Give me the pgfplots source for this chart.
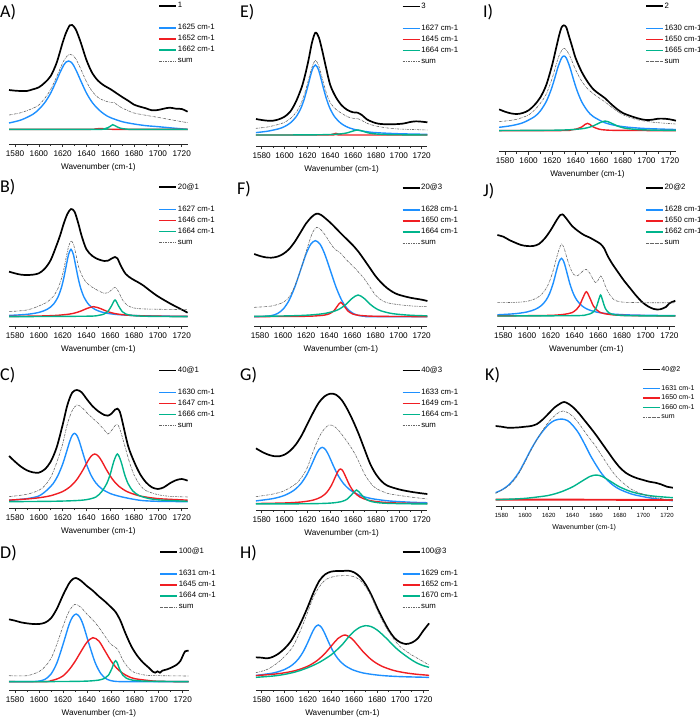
\documentclass[border=0pt]{standalone}
\usepackage{fontspec}
\setmainfont{Liberation Sans}
\newfontfamily\carlito{Carlito}
\usepackage{pgfplots}
\pgfplotsset{compat=1.18}
\definecolor{cblue}{RGB}{30,144,255}
\definecolor{cred}{RGB}{240,30,35}
\definecolor{cgreen}{RGB}{0,180,140}
\pgfplotsset{
 dax/.style n args={5}{scale only axis, anchor=north west, at={(#1pt,-#2pt)}, width=#3pt, height=#4pt,
   xmin=1575, xmax=1725, ymin=0, ymax=#5, y dir=reverse, axis lines=none, clip=false,
   legend cell align=left,
   legend style={draw=none, fill=none, inner sep=0pt, anchor=north west, font=\fontsize{7.8}{9}\selectfont, row sep=3pt,
     nodes={inner sep=0.6pt, text height=5.3pt, text depth=1.5pt}}},
 xax/.style n args={4}{scale only axis, anchor=north west, at={(#1pt,-#2pt)}, width=#3pt, height=#4pt,
   xmin=1575, xmax=1725, ymin=0, ymax=1, axis x line=bottom, axis y line=none, ytick=\empty,
   x axis line style={-}, xtick={1580,1600,...,1720}, minor x tick num=1, tick align=outside,
   major tick length=3pt, minor tick length=2pt, tick style={black!80, line width=0.6pt},
   xticklabel style={font=\fontsize{8.2}{9}\selectfont},
   /pgf/number format/1000 sep={}, /pgf/number format/assume math mode=true,
   xlabel={Wavenumber (cm-1)}, xlabel style={font=\fontsize{8.2}{9}\selectfont},
   axis line style={black!85, line width=0.8pt}},
 bk/.style={black, line width=1.7pt, smooth},
 bl/.style={cblue, line width=1.4pt, smooth},
 rd/.style={cred, line width=1.4pt, smooth},
 gn/.style={cgreen, line width=1.4pt, smooth},
 sm/.style={gray!80!black, line width=0.6pt, smooth, dash pattern=on 2.5pt off 1pt on 0.6pt off 1pt},
}
\newcommand{\lett}[3]{\node[anchor=west, inner sep=0pt, font=\carlito\fontsize{18}{18}\selectfont] at (#1pt,-#2pt) {#3};}
\begin{document}
\begin{tikzpicture}
\path[use as bounding box] (0,0) rectangle (700pt,-717pt);
% ---------------- A ----------------
\begin{axis}[xax={9.05}{0}{178.6}{144}]\end{axis}
\begin{axis}[dax={9.05}{0}{178.6}{144}{432}, legend style={at={(axis cs:1700.4,5)}}]
\addplot[bk] coordinates {(1575,270)(1580,272)(1585,273)(1590,273)(1595,268)(1600,262)(1605,248)(1610,228)(1615,188)(1620,128)(1623,97)(1626,76)(1628,75)(1631,88)(1635,125)(1640,180)(1645,220)(1650,243)(1655,257)(1660,267)(1665,279)(1670,291)(1675,302)(1680,314)(1685,320)(1690,325)(1695,331)(1700,330)(1705,326)(1710,323)(1715,326)(1720,327)(1725,335)};
\addlegendentry{1}
\addlegendimage{empty legend}\addlegendentry{}
\addplot[bl] coordinates {(1575,369)(1585,360)(1595,343)(1600,328)(1605,308)(1610,279)(1615,240.5)(1618,216)(1621,195)(1623,186)(1625,183)(1627,186)(1629,195)(1632,216)(1635,240.5)(1640,279)(1645,308)(1650,328)(1655,342.6)(1660,352.6)(1670,365)(1680,372)(1690,377)(1700,380)(1712,384)(1725,388)};
\addlegendentry{1625 cm-1}
\addplot[rd] coordinates {(1575,388)(1640,388)(1647,387)(1652,385.5)(1657,387)(1665,388)(1725,388)};
\addlegendentry{1652 cm-1}
\addplot[gn] coordinates {(1575,388)(1650,388)(1655,386.5)(1658,383)(1660,379)(1662,374)(1664,377)(1666,381)(1669,385)(1674,387.5)(1680,388)(1725,388)};
\addlegendentry{1662 cm-1}
\addplot[sm] coordinates {(1575,345)(1585,338)(1595,325)(1600,315)(1605,295)(1610,268)(1615,230)(1618,205)(1621,182)(1624,167)(1626,163)(1628,165)(1631,176)(1635,205)(1640,245)(1645,275)(1650,293)(1655,302)(1660,307)(1663,307)(1666,315)(1670,324)(1675,332)(1680,339)(1690,346)(1700,352)(1712,360)(1725,368)};
\addlegendentry{sum}
\end{axis}
% ---------------- E ----------------
\begin{axis}[xax={255.95}{0}{171.45}{146}]\end{axis}
\begin{axis}[dax={255.95}{0}{171.45}{146}{438}, legend style={at={(axis cs:1702.5,7)}}]
\addplot[bk] coordinates {(1575,357)(1580,360)(1585,362)(1590,362)(1595,358)(1600,350)(1605,335)(1610,305)(1615,262)(1618,225)(1621,180)(1624,128)(1627,98)(1630,112)(1633,152)(1636,198)(1640,255)(1645,292)(1650,316)(1655,330)(1660,337)(1664,338)(1668,346)(1672,358)(1677,366)(1682,371)(1690,373)(1700,372)(1705,370)(1710,366)(1715,364)(1720,365)(1725,367)};
\addlegendentry{3}
\addlegendimage{empty legend}\addlegendentry{}
\addplot[bl] coordinates {(1575,397.8)(1585,393.7)(1595,386.3)(1600,379.7)(1605,369)(1610,351)(1614,327)(1617,300)(1620,264)(1622,237)(1624,212)(1625.5,200)(1627,195)(1628.5,200)(1630,212)(1632,237)(1634,264)(1637,300)(1640,327)(1644,351)(1649,369)(1654,379.7)(1660,387.3)(1670,394.2)(1680,398)(1700,401.2)(1725,403)};
\addlegendentry{1627 cm-1}
\addplot[rd] coordinates {(1575,405)(1638,405)(1641,404)(1643,402)(1645,400)(1647,402)(1649,404)(1652,405)(1725,405)};
\addlegendentry{1645 cm-1}
\addplot[gn] coordinates {(1575,405)(1620,404.7)(1640,403.5)(1650,401.3)(1655,398.4)(1660,393)(1664,390)(1668,393)(1673,398.4)(1678,401.3)(1688,403.5)(1700,404.3)(1725,405)};
\addlegendentry{1664 cm-1}
\addplot[sm] coordinates {(1575,385)(1585,381)(1595,373)(1600,367)(1605,356)(1610,338)(1614,314)(1617,287)(1620,252)(1622,226)(1624,202)(1627,181)(1630,198)(1632,222)(1634,248)(1637,283)(1640,308)(1645,328)(1650,340)(1655,350)(1660,355)(1664,356)(1668,362)(1673,371)(1680,378)(1690,384)(1700,387)(1725,390)};
\addlegendentry{sum}
\end{axis}
% ---------------- I ----------------
\begin{axis}[xax={499.1}{0}{176.8}{151.7}]\end{axis}
\begin{axis}[dax={499.1}{0}{176.8}{151.7}{455}, legend style={at={(axis cs:1698.8,6)}}]
\addplot[bk] coordinates {(1575,328)(1580,335)(1585,340)(1590,342)(1595,339)(1600,331)(1605,315)(1610,292)(1615,255)(1620,195)(1623,150)(1626,105)(1628,82)(1630,76)(1632,82)(1634,105)(1637,140)(1640,175)(1645,215)(1650,245)(1655,268)(1660,282)(1665,295)(1670,312)(1675,327)(1680,339)(1685,346)(1690,352)(1695,357)(1700,360)(1705,359)(1710,356)(1715,356)(1720,358)(1725,362)};
\addlegendentry{2}
\addlegendimage{empty legend}\addlegendentry{}
\addplot[bl] coordinates {(1575,381.8)(1585,377.1)(1595,368.4)(1605,350)(1610,332.7)(1615,304.6)(1619,270.3)(1622,237)(1625,201)(1628,174)(1630,168)(1632,174)(1635,201)(1638,237)(1641,270.3)(1645,304.6)(1650,332.7)(1655,350)(1665,368.4)(1675,377.1)(1685,381.8)(1700,385.6)(1725,388.5)};
\addlegendentry{1630 cm-1}
\addplot[rd] coordinates {(1575,392)(1630,391.5)(1635,389.8)(1640,387.6)(1645,381)(1648,373)(1650,370)(1652,373)(1655,381)(1660,387.6)(1665,389.8)(1675,391)(1725,392)};
\addlegendentry{1650 cm-1}
\addplot[gn] coordinates {(1575,391.6)(1620,390.6)(1635,389.1)(1645,386.2)(1650,383.1)(1655,377.5)(1660,368.8)(1665,363)(1670,368.8)(1675,377.5)(1680,383.1)(1685,386.2)(1695,389.1)(1710,390.6)(1725,391.2)};
\addlegendentry{1665 cm-1}
\addplot[sm] coordinates {(1575,365)(1585,361)(1590,358)(1600,345)(1605,330)(1610,310)(1615,282)(1620,235)(1625,175)(1628,152)(1630,145)(1632,150)(1635,168)(1640,210)(1645,243)(1650,266)(1655,281)(1660,294)(1665,306)(1670,320)(1675,333)(1680,344)(1690,357)(1700,364)(1710,368)(1725,372)};
\addlegendentry{sum}
\end{axis}
% ---------------- B ----------------
\begin{axis}[xax={9.05}{170}{178.6}{156}]\end{axis}
\begin{axis}[dax={9.05}{170}{178.6}{156}{468}, legend style={at={(axis cs:1700.4,39)}}]
\addplot[bk] coordinates {(1575,305)(1580,310)(1585,314)(1590,315)(1595,314)(1600,310)(1605,296)(1610,270)(1615,225)(1618,195)(1621,160)(1624,132)(1627,117)(1630,125)(1633,158)(1636,198)(1640,238)(1645,258)(1650,268)(1655,273)(1658,272)(1661,266)(1664,261)(1666,265)(1669,288)(1673,312)(1678,326)(1683,336)(1688,347)(1693,361)(1700,379)(1710,400)(1718,415)(1725,428)};
\addlegendentry{20@1}
\addlegendimage{empty legend}\addlegendentry{}
\addplot[bl] coordinates {(1575,436.4)(1590,433)(1600,427.3)(1607,418)(1612,403.9)(1616,381.8)(1619,352.4)(1621,323.6)(1623,287.8)(1625,253.3)(1627,238)(1629,253.3)(1631,287.8)(1633,323.6)(1635,352.4)(1638,381.8)(1642,403.9)(1647,418)(1654,427.3)(1664,433)(1679,436.4)(1700,438.2)(1725,439)};
\addlegendentry{1627 cm-1}
\addplot[rd] coordinates {(1575,439.2)(1600,438.1)(1615,436.1)(1625,432.6)(1630,429.2)(1635,423.7)(1640,416)(1646,410)(1652,416)(1657,423.7)(1662,429.2)(1667,432.6)(1677,436.1)(1692,438.1)(1725,439.3)};
\addlegendentry{1646 cm-1}
\addplot[gn] coordinates {(1575,440)(1640,438.6)(1650,436.2)(1655,431.8)(1658,424.6)(1661,408)(1664,390)(1667,408)(1670,424.6)(1673,431.8)(1678,436.2)(1688,438.6)(1705,439.5)(1725,440)};
\addlegendentry{1664 cm-1}
\addplot[sm] coordinates {(1575,425)(1590,420)(1600,408)(1607,396)(1612,380)(1616,356)(1619,326)(1621,298)(1623,262)(1625,230)(1627,213)(1629,222)(1631,250)(1633,285)(1636,315)(1640,338)(1645,352)(1650,362)(1655,370)(1658,368)(1661,360)(1664,352)(1667,365)(1670,388)(1674,405)(1680,414)(1690,417)(1725,419)};
\addlegendentry{sum}
\end{axis}
% ---------------- F ----------------
\begin{axis}[xax={254.2}{170}{173.2}{156}]\end{axis}
\begin{axis}[dax={254.2}{170}{173.2}{156}{468}, legend style={at={(axis cs:1702.7,41)}}]
\addplot[bk] coordinates {(1575,252)(1580,258)(1585,262)(1590,263)(1595,260)(1600,252)(1605,238)(1610,216)(1615,188)(1620,160)(1625,140)(1629,131)(1633,135)(1640,155)(1645,172)(1650,190)(1655,207)(1660,224)(1665,244)(1670,268)(1675,293)(1680,318)(1685,338)(1690,354)(1695,366)(1700,374)(1710,383)(1720,389)(1725,393)};
\addlegendentry{20@3}
\addlegendimage{empty legend}\addlegendentry{}
\addplot[bl] coordinates {(1575,440)(1585,439)(1590,436.8)(1595,430.9)(1600,417.6)(1605,392.3)(1610,352.6)(1615,301.7)(1620,251.4)(1624,222.5)(1628,212)(1632,222.5)(1636,251.4)(1641,301.7)(1646,352.6)(1651,392.3)(1656,417.6)(1661,430.9)(1666,436.8)(1671,439)(1676,440)(1725,440)};
\addlegendentry{1628 cm-1}
\addplot[rd] coordinates {(1575,439.8)(1610,439.3)(1625,438.3)(1635,435.7)(1640,431.4)(1644,422.4)(1647,408.4)(1650,397)(1653,408.4)(1656,422.4)(1660,431.4)(1665,435.7)(1675,438.3)(1690,439.3)(1725,439.8)};
\addlegendentry{1650 cm-1}
\addplot[gn] coordinates {(1575,438.9)(1600,437.9)(1620,435.7)(1635,431)(1645,422.8)(1650,414.6)(1655,401.6)(1660,384.6)(1665,375)(1670,384.6)(1675,401.6)(1680,414.6)(1685,422.8)(1695,431)(1710,435.7)(1725,437.5)};
\addlegendentry{1664 cm-1}
\addplot[sm] coordinates {(1575,412)(1590,408)(1600,397)(1605,382)(1610,350)(1615,302)(1620,245)(1625,192)(1629,172)(1633,180)(1637,198)(1641,220)(1645,238)(1649,247)(1653,262)(1657,277)(1661,290)(1665,305)(1670,325)(1675,350)(1680,375)(1685,390)(1690,398)(1700,404)(1712,408)(1725,410)};
\addlegendentry{sum}
\end{axis}
% ---------------- J ----------------
\begin{axis}[xax={497.4}{170}{177.9}{156.7}]\end{axis}
\begin{axis}[dax={497.4}{170}{177.9}{156.7}{470}, legend style={at={(axis cs:1699.5,41)}}]
\addplot[bk] coordinates {(1575,195)(1580,200)(1585,210)(1590,218)(1595,225)(1600,228)(1605,228)(1610,222)(1615,205)(1620,180)(1625,150)(1628,135)(1630,133)(1633,145)(1638,168)(1643,183)(1648,195)(1653,203)(1658,213)(1662,222)(1665,235)(1668,258)(1672,282)(1677,308)(1682,333)(1687,355)(1692,377)(1697,396)(1702,409)(1707,417)(1712,418)(1717,411)(1720,400)(1725,392)};
\addlegendentry{20@2}
\addlegendimage{empty legend}\addlegendentry{}
\addplot[bl] coordinates {(1575,434.3)(1590,431)(1600,425.7)(1607,417.8)(1612,406.7)(1616,390.5)(1619,370.5)(1622,340)(1625,299.6)(1627,275.2)(1629,265)(1631,275.2)(1633,299.6)(1636,340)(1639,370.5)(1642,390.5)(1646,406.7)(1651,417.8)(1658,425.7)(1668,431)(1683,434.3)(1700,435.8)(1725,436.8)};
\addlegendentry{1628 cm-1}
\addplot[rd] coordinates {(1575,437.7)(1620,436)(1635,430.7)(1640,423.4)(1644,408)(1647,384.3)(1650,365)(1653,384.3)(1656,408)(1660,423.4)(1665,430.7)(1680,436)(1725,437.7)};
\addlegendentry{1650 cm-1}
\addplot[gn] coordinates {(1575,437.9)(1640,436.9)(1650,434.3)(1655,428.2)(1658,415.3)(1660,394.4)(1662,375)(1664,394.4)(1666,415.3)(1669,428.2)(1674,434.3)(1684,436.9)(1700,437.4)(1725,437.7)};
\addlegendentry{1662 cm-1}
\addplot[sm] coordinates {(1575,398)(1590,397)(1600,394)(1607,386)(1612,374)(1616,356)(1619,334)(1622,302)(1625,262)(1627,238)(1629,222)(1631,232)(1633,256)(1636,290)(1639,312)(1642,318)(1645,310)(1648,300)(1650,298)(1653,310)(1656,330)(1658,338)(1660,330)(1662,318)(1664,328)(1666,348)(1669,370)(1673,388)(1680,396)(1700,398)(1725,398)};
\addlegendentry{sum}
\end{axis}
% ---------------- C ----------------
\begin{axis}[xax={9.05}{350}{178.6}{158.3}]\end{axis}
\begin{axis}[dax={9.05}{350}{178.6}{158.3}{475}, legend style={at={(axis cs:1700.4,49)}}]
\addplot[bk] coordinates {(1575,318)(1580,335)(1585,350)(1590,361)(1595,367)(1600,368)(1605,358)(1610,335)(1615,292)(1620,225)(1624,165)(1628,128)(1632,120)(1636,127)(1640,146)(1645,168)(1650,184)(1655,195)(1658,197)(1661,191)(1664,179)(1666,176)(1668,185)(1670,212)(1675,288)(1680,335)(1685,372)(1690,397)(1695,412)(1700,417)(1705,412)(1710,400)(1715,391)(1720,387)(1725,392)};
\addlegendentry{40@1}
\addlegendimage{empty legend}\addlegendentry{}
\addplot[bl] coordinates {(1575,451)(1590,446)(1600,438)(1607,420)(1612,401)(1616,377)(1620,342.7)(1623,309.1)(1626,273.9)(1628,256.5)(1630,250)(1632,256.5)(1634,273.9)(1637,309.1)(1640,342.7)(1644,376.8)(1648,399.3)(1653,416.8)(1660,430.7)(1670,441)(1685,451)(1700,454)(1725,455)};
\addlegendentry{1630 cm-1}
\addplot[rd] coordinates {(1575,450.5)(1590,447)(1600,443.4)(1610,437.1)(1620,424.7)(1627,408)(1632,388.4)(1637,360.3)(1641,334.2)(1644,318.3)(1647,312)(1650,318.3)(1653,334.2)(1657,360.3)(1662,388.4)(1667,408)(1674,424.7)(1684,437.1)(1694,443.4)(1704,446.9)(1725,450.5)};
\addlegendentry{1647 cm-1}
\addplot[gn] coordinates {(1575,455)(1610,454)(1630,452)(1640,449)(1648,441)(1653,424)(1657,401.1)(1660,372.6)(1663,334.2)(1666,312)(1669,334.2)(1672,372.6)(1675,401.1)(1679,422.9)(1684,436.2)(1692,445.3)(1702,450)(1725,454)};
\addlegendentry{1666 cm-1}
\addplot[sm] coordinates {(1575,440)(1590,433)(1600,421)(1605,407)(1610,382)(1615,338)(1620,282)(1624,222)(1628,182)(1632,165)(1636,172)(1640,187)(1645,204)(1650,220)(1655,240)(1658,252)(1661,242)(1664,227)(1666,224)(1668,236)(1672,285)(1676,335)(1680,375)(1685,405)(1690,422)(1700,434)(1710,439)(1725,441)};
\addlegendentry{sum}
\end{axis}
% ---------------- G ----------------
\begin{axis}[xax={255.95}{350}{171.45}{160}]\end{axis}
\begin{axis}[dax={255.95}{350}{171.45}{160}{480}, legend style={at={(axis cs:1702.5,49)}}]
\addplot[bk] coordinates {(1575,295)(1580,305)(1585,313)(1590,318)(1595,319)(1600,314)(1605,302)(1610,283)(1615,256)(1620,222)(1625,188)(1630,158)(1635,139)(1640,131)(1645,134)(1650,150)(1655,178)(1660,213)(1665,253)(1670,298)(1675,342)(1680,373)(1685,394)(1690,407)(1700,418)(1710,425)(1720,430)(1725,432)};
\addlegendentry{40@3}
\addlegendimage{empty legend}\addlegendentry{}
\addplot[bl] coordinates {(1575,452.7)(1590,445.7)(1600,436.1)(1608,421.4)(1614,402.2)(1619,377)(1623,349.4)(1627,318.4)(1630,299.5)(1633,292)(1636,299.5)(1639,318.4)(1643,349.4)(1647,377)(1652,402.2)(1658,421.4)(1666,436.1)(1676,445.7)(1691,452.7)(1710,456.6)(1725,458.2)};
\addlegendentry{1633 cm-1}
\addplot[rd] coordinates {(1575,460.6)(1600,458.9)(1615,455.8)(1625,450.3)(1632,441)(1637,426.9)(1641,406.3)(1644,384)(1647,362.5)(1649,357)(1651,362.5)(1654,384)(1657,406.3)(1661,426.9)(1666,441)(1673,450.3)(1683,455.8)(1698,458.9)(1725,460.7)};
\addlegendentry{1649 cm-1}
\addplot[gn] coordinates {(1575,461.8)(1620,461.2)(1640,459.3)(1650,454.6)(1655,446.9)(1659,432.9)(1663,420)(1667,432.9)(1671,446.9)(1676,454.6)(1686,459.3)(1706,461.2)(1725,461.6)};
\addlegendentry{1664 cm-1}
\addplot[sm] coordinates {(1575,440)(1590,432)(1600,422)(1610,401)(1615,382)(1620,352)(1625,305)(1630,263)(1635,236)(1639,225)(1643,228)(1647,240)(1652,262)(1657,286)(1661,308)(1665,335)(1670,372)(1675,398)(1680,415)(1690,430)(1700,436)(1710,441)(1725,447)};
\addlegendentry{sum}
\end{axis}
% ---------------- K ----------------
\begin{axis}[xax={495.6}{350}{177.3}{156.7}, xticklabel style={font=\fontsize{6}{7}\selectfont}, xlabel style={font=\fontsize{7}{8}\selectfont}]\end{axis}
\begin{axis}[dax={495.6}{350}{177.3}{156.7}{470}, legend style={at={(axis cs:1698.7,47)}, font=\fontsize{7}{8}\selectfont, row sep=2.4pt, nodes={inner sep=0.5pt, text height=4.8pt, text depth=1.3pt}}]
\addplot[bk] coordinates {(1575,228)(1580,230)(1585,233)(1590,233)(1595,232)(1600,230)(1605,228)(1610,222)(1615,208)(1620,190)(1625,172)(1630,160)(1633,156)(1636,160)(1640,170)(1645,188)(1650,210)(1655,232)(1660,255)(1665,280)(1670,305)(1675,330)(1680,352)(1685,368)(1690,378)(1695,385)(1700,390)(1705,395)(1710,398)(1715,403)(1720,410)(1725,413)};
\addlegendentry{40@2}
\addlegendimage{empty legend}\addlegendentry{}
\addplot[bl] coordinates {(1575,428)(1580,420)(1585,408)(1590,390)(1595,365)(1600,332)(1605,298)(1610,268)(1615,243)(1620,223)(1625,211)(1631,207)(1636,212)(1640,225)(1645,248)(1650,280)(1655,315)(1660,345)(1665,372)(1670,392)(1675,407)(1680,418)(1690,432)(1700,440)(1710,446)(1725,452)};
\addlegendentry{1631 cm-1}
\addplot[rd, line width=1.9pt] coordinates {(1575,449)(1650,449)(1725,450)};
\addlegendentry{1650 cm-1}
\addplot[gn] coordinates {(1575,449)(1590,447)(1600,445)(1610,441)(1620,436)(1630,426)(1640,410.7)(1648,393.5)(1655,379)(1660,375)(1665,379)(1672,393.5)(1680,410.7)(1690,425.3)(1700,433.8)(1710,438.8)(1725,443)};
\addlegendentry{1660 cm-1}
\addplot[sm] coordinates {(1575,430)(1585,410)(1590,393)(1595,368)(1600,335)(1605,300)(1610,268)(1615,240)(1620,215)(1625,197)(1629,186)(1632,183)(1635,186)(1640,198)(1645,218)(1650,243)(1655,267)(1660,290)(1665,318)(1670,345)(1675,370)(1680,390)(1690,418)(1700,433)(1710,443)(1725,450)};
\addlegendentry{sum}
\end{axis}
% ---------------- D ----------------
\begin{axis}[xax={9.0}{530}{179.7}{160}]\end{axis}
\begin{axis}[dax={9.0}{530}{179.7}{160}{480}, legend style={at={(axis cs:1700.4,53)}}]
\addplot[bk] coordinates {(1575,268)(1580,272)(1585,277)(1590,280)(1595,282)(1600,282)(1605,278)(1610,265)(1615,236)(1620,196)(1625,161)(1628,148)(1631,144)(1635,152)(1640,168)(1645,182)(1650,199)(1655,214)(1660,231)(1664,246)(1668,272)(1672,308)(1677,348)(1682,377)(1687,398)(1692,414)(1695,425)(1697,428)(1699,424)(1701,428)(1703,422)(1707,418)(1711,412)(1715,404)(1718,393)(1720,378)(1722,364)(1725,362)};
\addlegendentry{100@1}
\addlegendimage{empty legend}\addlegendentry{}
\addplot[bl] coordinates {(1575,455)(1592,455)(1595,454.7)(1600,453.3)(1605,448.1)(1610,432.6)(1615,398.6)(1620,344.2)(1625,285.4)(1628,261)(1631,252)(1634,261)(1637,285.4)(1642,344.2)(1647,398.6)(1652,432.6)(1657,448.1)(1662,453.3)(1667,454.7)(1672,455)(1725,455)};
\addlegendentry{1631 cm-1}
\addplot[rd] coordinates {(1575,455)(1605,455)(1610,452)(1615,447)(1620,438)(1625,420)(1630,395)(1635,365)(1640,337)(1645,323)(1650,333)(1655,362)(1660,392)(1665,415)(1670,430)(1675,440)(1680,446)(1690,451)(1700,454)(1725,455)};
\addlegendentry{1645 cm-1}
\addplot[gn] coordinates {(1575,455)(1620,454.5)(1640,453.3)(1650,450.2)(1655,444.6)(1658,435.6)(1661,414.7)(1662.5,399.7)(1664,392)(1665.5,399.7)(1667,414.7)(1670,435.6)(1673,444.6)(1678,450.2)(1688,453.3)(1710,454.5)(1725,455)};
\addlegendentry{1664 cm-1}
\addplot[sm] coordinates {(1575,437)(1590,437)(1600,425)(1605,410)(1610,386)(1615,342)(1620,290)(1625,245)(1630,223)(1635,232)(1640,252)(1645,270)(1650,292)(1655,318)(1660,343)(1663,350)(1666,360)(1670,390)(1675,415)(1680,428)(1690,436)(1700,437)(1725,438)};
\addlegendentry{sum}
\end{axis}
% ---------------- H ----------------
\begin{axis}[xax={255.9}{530}{173.2}{160}]\end{axis}
\begin{axis}[dax={255.9}{530}{173.2}{160}{480}, legend style={at={(axis cs:1701.2,53)}}]
\addplot[bk] coordinates {(1575,382)(1580,383)(1585,385)(1590,380)(1595,370)(1600,355)(1605,335)(1610,305)(1615,270)(1620,230)(1625,187)(1630,152)(1635,133)(1640,125)(1645,123)(1650,123)(1655,122)(1660,127)(1665,140)(1670,163)(1675,195)(1680,233)(1685,268)(1690,300)(1695,324)(1700,337)(1705,342)(1710,338)(1715,326)(1720,302)(1725,280)};
\addlegendentry{100@3}
\addlegendimage{empty legend}\addlegendentry{}
\addplot[bl] coordinates {(1575,436.2)(1590,429)(1600,418.2)(1607,403.6)(1612,386)(1616,365)(1620,336.8)(1623,313.1)(1626,293.1)(1629,285)(1632,293.1)(1635,313.1)(1638,336.8)(1642,365)(1646,386)(1651,403.6)(1658,418.2)(1668,429)(1683,436.2)(1700,439.8)(1725,442.1)};
\addlegendentry{1629 cm-1}
\addplot[rd] coordinates {(1575,436.8)(1590,432.7)(1600,428.2)(1610,421)(1620,408.5)(1628,391.7)(1635,369.5)(1641,345.2)(1646,325.7)(1652,315)(1658,325.7)(1663,345.2)(1669,369.5)(1676,391.7)(1684,408.5)(1694,421)(1704,428.2)(1714,432.7)(1725,435.9)};
\addlegendentry{1652 cm-1}
\addplot[gn] coordinates {(1575,442)(1590,438)(1600,433)(1610,425)(1620,413)(1630,397)(1640,375)(1645,360)(1650,343)(1655,322)(1660,304)(1665,292)(1670,287)(1675,290)(1680,300)(1685,315)(1690,332)(1695,350)(1700,365)(1705,378)(1710,390)(1715,400)(1720,407)(1725,412)};
\addlegendentry{1670 cm-1}
\addplot[sm] coordinates {(1575,428)(1585,418)(1595,395)(1605,360)(1610,330)(1615,290)(1620,245)(1625,200)(1630,170)(1635,150)(1640,142)(1645,138)(1650,137)(1655,137)(1660,140)(1665,150)(1670,170)(1675,200)(1680,240)(1685,275)(1690,305)(1695,330)(1700,350)(1705,363)(1710,375)(1715,385)(1720,395)(1725,405)};
\addlegendentry{sum}
\end{axis}
% ---------------- letters ----------------
\lett{0}{11.7}{A)}
\lett{240}{12}{E)}
\lett{483}{12.5}{I)}
\lett{0}{187.5}{B)}
\lett{237}{189.5}{F)}
\lett{483}{191.5}{J)}
\lett{0}{375.5}{C)}
\lett{240}{375.5}{G)}
\lett{485}{375.5}{K)}
\lett{0}{553.5}{D)}
\lett{240}{553.5}{H)}
\end{tikzpicture}
\end{document}
